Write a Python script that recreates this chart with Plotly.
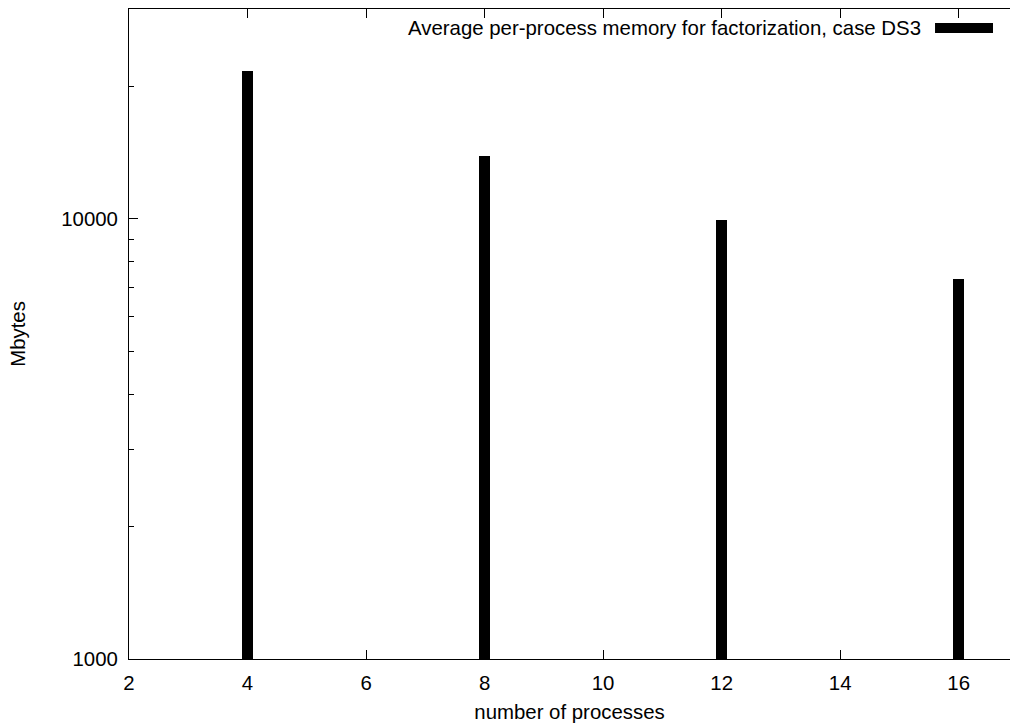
import plotly.graph_objects as go

# Data
processes = [4, 8, 12, 16]
memory_mb = [21700, 13900, 9950, 7300]
series_name = "Average per-process memory for factorization, case DS3"

x_tickvals = [2, 4, 6, 8, 10, 12, 14, 16]
y_tickvals = [1000, 10000]
y_ticktext = ["1000", "10000"]
y_minor_vals = [2000, 3000, 4000, 5000, 6000, 7000, 8000, 9000, 20000, 30000]

FONT = "Liberation Sans, Arial, Helvetica, sans-serif"
FS = 20.4

fig = go.Figure()
fig.add_trace(go.Bar(
    x=processes, y=memory_mb, name=series_name,
    width=0.185, marker=dict(color="black", line=dict(width=0)),
    showlegend=False,
))

fig.update_layout(
    width=1010, height=727,
    margin=dict(l=129, r=0, t=9, b=68),
    paper_bgcolor="white", plot_bgcolor="white",
    font=dict(family=FONT, size=FS, color="black"),
    bargap=0,
    xaxis=dict(
        range=[2, 16.866], tickvals=x_tickvals, ticktext=[str(v) for v in x_tickvals],
        ticks="inside", ticklen=9, tickwidth=1, tickcolor="black",
        showline=True, linecolor="black", linewidth=1, mirror="ticks",
        showgrid=False, zeroline=False, ticklabelstandoff=6,
        title=dict(text="number of processes", font=dict(size=FS), standoff=11),
        tickfont=dict(size=FS),
    ),
    yaxis=dict(
        type="log", range=[3, 4.4771],
        tickvals=y_tickvals, ticktext=y_ticktext,
        ticks="inside", ticklen=9, tickwidth=1, tickcolor="black",
        minor=dict(tickvals=y_minor_vals, ticks="inside", ticklen=5, tickwidth=1,
                   tickcolor="black", showgrid=False),
        showline=True, linecolor="black", linewidth=1, mirror=False,
        showgrid=False, zeroline=False, ticklabelstandoff=6,
        title=dict(text="Mbytes", font=dict(size=FS), standoff=30),
        tickfont=dict(size=FS),
    ),
    yaxis2=dict(
        type="log", range=[3, 4.4771], overlaying="y", side="right",
        tickvals=[10000], ticks="inside", ticklen=2, tickwidth=1, tickcolor="black",
        showticklabels=False, showline=False, showgrid=False, zeroline=False,
    ),
)

# Legend drawn as text + sample box (gnuplot style: text on the left of the sample)
fig.add_annotation(
    x=0.901, y=0.9708, xref="paper", yref="paper",
    xanchor="right", yanchor="middle", showarrow=False,
    text=series_name, font=dict(family=FONT, size=FS, color="black"),
)
fig.add_shape(
    type="rect", xref="paper", yref="paper",
    x0=0.9149, x1=0.9807, y0=0.9631, y1=0.9785,
    fillcolor="black", line=dict(width=0),
)

fig.write_html("out.html")
